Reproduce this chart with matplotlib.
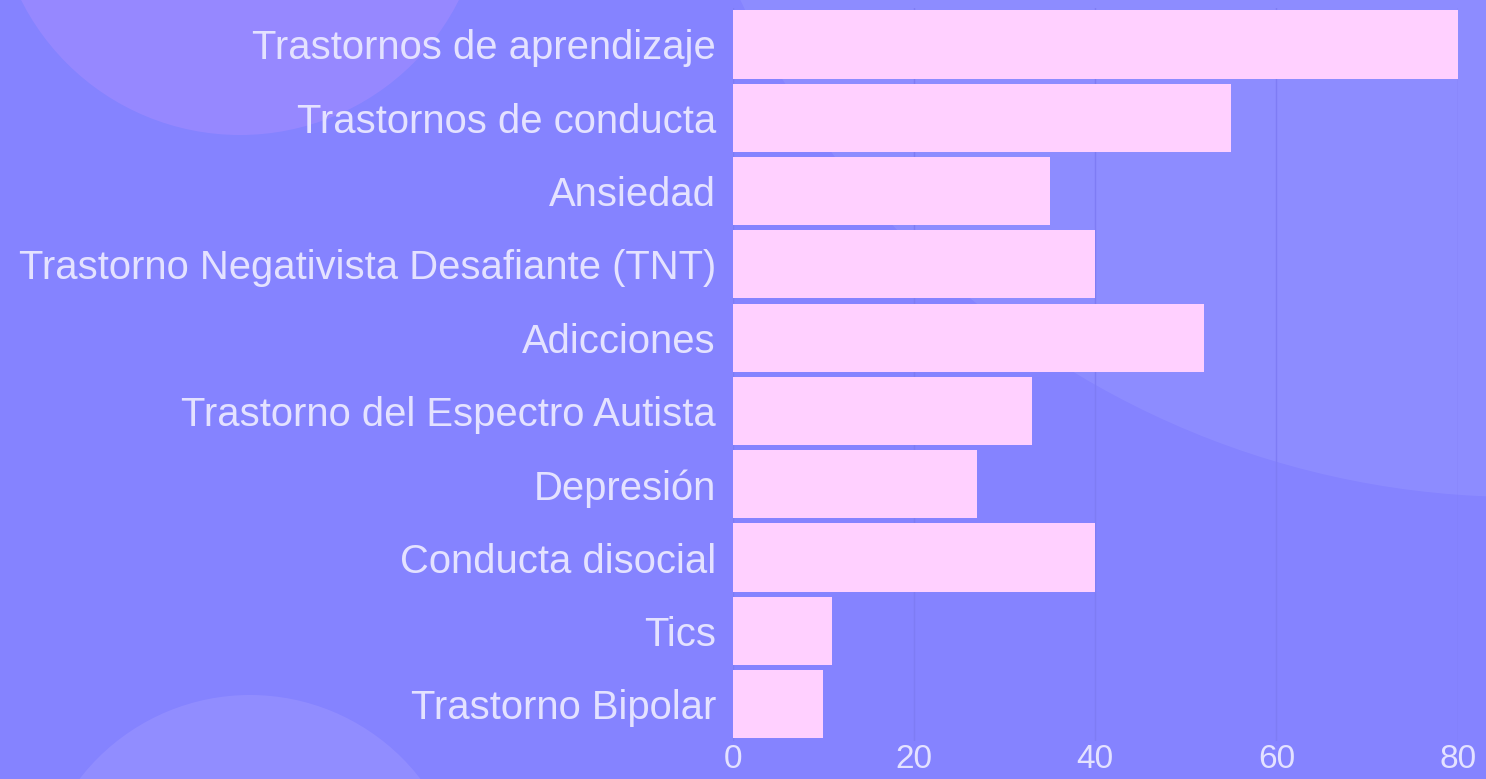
import matplotlib.pyplot as plt
from matplotlib.patches import Circle

categories = [
    "Trastornos de aprendizaje",
    "Trastornos de conducta",
    "Ansiedad",
    "Trastorno Negativista Desafiante (TNT)",
    "Adicciones",
    "Trastorno del Espectro Autista",
    "Depresión",
    "Conducta disocial",
    "Tics",
    "Trastorno Bipolar",
]
values = [80, 55, 35, 40, 52, 33, 27, 40, 11, 10]
x_ticks = [0, 20, 40, 60, 80]

bg = "#8583ff"
bar_color = "#ffd0ff"
text_color = "#e4e2ff"

plt.rcParams['font.family'] = ['Liberation Sans', 'DejaVu Sans']

W, H = 1486, 779
fig = plt.figure(figsize=(W / 100, H / 100), dpi=100)
fig.patch.set_facecolor(bg)

# background layer with soft decorative circles (pixel coords, y down)
bgax = fig.add_axes([0, 0, 1, 1], zorder=-1)
bgax.set_xlim(0, W)
bgax.set_ylim(H, 0)
bgax.axis("off")
for (cx, cy, r, c, a) in [(240, -110, 245, "#a28cff", 0.6),
                          (250, 910, 215, "#9a94ff", 0.6),
                          (1520, -363, 860, "#9898ff", 0.45)]:
    bgax.add_patch(Circle((cx, cy), r, facecolor=c, alpha=a, edgecolor="none"))

ax = fig.add_axes([0.493, 0.049, 0.488, 0.941])
ax.set_facecolor("none")

pos = list(range(len(categories)))
ax.barh(pos, values, height=0.93, color=bar_color, zorder=3)

ax.set_ylim(len(categories) - 0.5, -0.5)
ax.set_xlim(0, 80)
ax.set_yticks(pos)
ax.set_yticklabels(categories, fontsize=28.8, color=text_color)
ax.set_xticks(x_ticks)
ax.set_xticklabels([str(t) for t in x_ticks], fontsize=24, color=text_color)
ax.tick_params(length=0, pad=2)
ax.tick_params(axis="y", pad=12)
ax.grid(axis="x", color="#7e7cf4", linewidth=1, zorder=0)
for s in ax.spines.values():
    s.set_visible(False)

fig.savefig("out.png", dpi=100, facecolor=bg)
